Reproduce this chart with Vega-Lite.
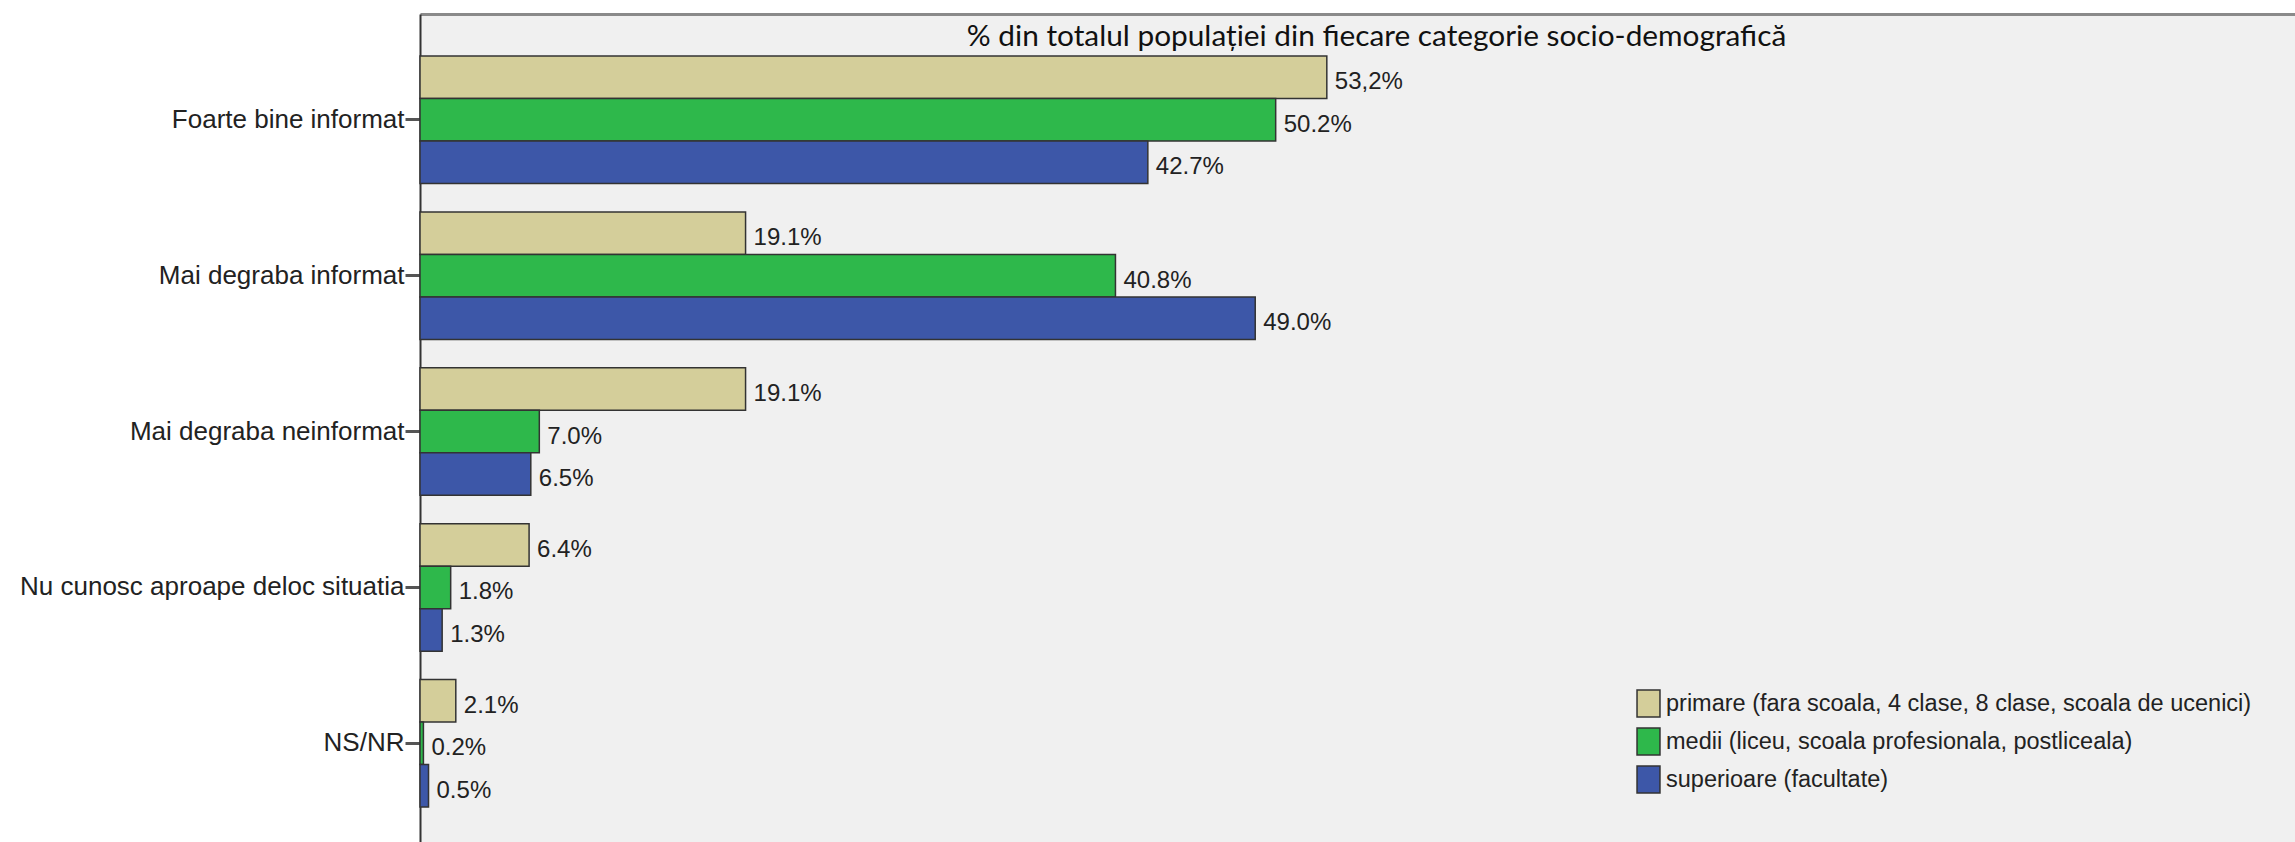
{
  "$schema": "https://vega.github.io/schema/vega-lite/v6.json",
  "width": 1875,
  "height": 828,
  "autosize": {"type": "none"},
  "padding": {"left": 420, "top": 14, "right": 0, "bottom": 0},
  "background": "#ffffff",
  "title": {
    "text": "% din totalul populației din fiecare categorie socio-demografică",
    "font": "Lato",
    "fontSize": 29.8,
    "fontWeight": "normal",
    "color": "#111111",
    "anchor": "middle",
    "frame": "group",
    "dx": 19,
    "baseline": "alphabetic",
    "offset": -62
  },
  "data": {
    "values": [
      {"cat": "Foarte bine informat", "edu": "primare (fara scoala, 4 clase, 8 clase, scoala de ucenici)", "value": 53.2, "label": "53,2%"},
      {"cat": "Foarte bine informat", "edu": "medii (liceu, scoala profesionala, postliceala)", "value": 50.2, "label": "50.2%"},
      {"cat": "Foarte bine informat", "edu": "superioare (facultate)", "value": 42.7, "label": "42.7%"},
      {"cat": "Mai degraba informat", "edu": "primare (fara scoala, 4 clase, 8 clase, scoala de ucenici)", "value": 19.1, "label": "19.1%"},
      {"cat": "Mai degraba informat", "edu": "medii (liceu, scoala profesionala, postliceala)", "value": 40.8, "label": "40.8%"},
      {"cat": "Mai degraba informat", "edu": "superioare (facultate)", "value": 49.0, "label": "49.0%"},
      {"cat": "Mai degraba neinformat", "edu": "primare (fara scoala, 4 clase, 8 clase, scoala de ucenici)", "value": 19.1, "label": "19.1%"},
      {"cat": "Mai degraba neinformat", "edu": "medii (liceu, scoala profesionala, postliceala)", "value": 7.0, "label": "7.0%"},
      {"cat": "Mai degraba neinformat", "edu": "superioare (facultate)", "value": 6.5, "label": "6.5%"},
      {"cat": "Nu cunosc aproape deloc situatia", "edu": "primare (fara scoala, 4 clase, 8 clase, scoala de ucenici)", "value": 6.4, "label": "6.4%"},
      {"cat": "Nu cunosc aproape deloc situatia", "edu": "medii (liceu, scoala profesionala, postliceala)", "value": 1.8, "label": "1.8%"},
      {"cat": "Nu cunosc aproape deloc situatia", "edu": "superioare (facultate)", "value": 1.3, "label": "1.3%"},
      {"cat": "NS/NR", "edu": "primare (fara scoala, 4 clase, 8 clase, scoala de ucenici)", "value": 2.1, "label": "2.1%"},
      {"cat": "NS/NR", "edu": "medii (liceu, scoala profesionala, postliceala)", "value": 0.2, "label": "0.2%"},
      {"cat": "NS/NR", "edu": "superioare (facultate)", "value": 0.5, "label": "0.5%"}
    ]
  },
  "encoding": {
    "y": {
      "field": "cat",
      "type": "nominal",
      "sort": ["Foarte bine informat", "Mai degraba informat", "Mai degraba neinformat", "Nu cunosc aproape deloc situatia", "NS/NR"],
      "scale": {"paddingInner": 0.182, "paddingOuter": 0.247, "align": 0.546},
      "axis": {
        "title": null,
        "labelFont": "Liberation Sans",
        "labelFontSize": 26,
        "labelColor": "#222222",
        "labelLimit": 600,
        "labelPadding": 1,
        "tickSize": 15,
        "tickWidth": 3,
        "tickColor": "#555555",
        "domainColor": "#333333",
        "domainWidth": 2,
        "grid": false
      }
    },
    "yOffset": {
      "field": "edu",
      "type": "nominal",
      "sort": ["primare (fara scoala, 4 clase, 8 clase, scoala de ucenici)", "medii (liceu, scoala profesionala, postliceala)", "superioare (facultate)"],
      "scale": {"paddingInner": 0, "paddingOuter": 0}
    },
    "x": {
      "field": "value",
      "type": "quantitative",
      "scale": {"domain": [0, 110], "nice": false, "zero": true},
      "axis": {
        "orient": "top",
        "title": null,
        "labels": false,
        "ticks": false,
        "grid": false,
        "domainColor": "#8a8a8a",
        "domainWidth": 3
      }
    }
  },
  "layer": [
    {
      "mark": {"type": "bar", "stroke": "#333333", "strokeWidth": 1.5},
      "encoding": {
        "color": {
          "field": "edu",
          "type": "nominal",
          "sort": ["primare (fara scoala, 4 clase, 8 clase, scoala de ucenici)", "medii (liceu, scoala profesionala, postliceala)", "superioare (facultate)"],
          "scale": {
            "domain": ["primare (fara scoala, 4 clase, 8 clase, scoala de ucenici)", "medii (liceu, scoala profesionala, postliceala)", "superioare (facultate)"],
            "range": ["#d4ce9a", "#2eb84b", "#3d57a8"]
          },
          "legend": {
            "title": null,
            "orient": "none",
            "legendX": 1214,
            "legendY": 675,
            "symbolType": "M-0.85,-1H0.85V1H-0.85Z",
            "symbolSize": 729,
            "symbolStrokeColor": "#333333",
            "symbolStrokeWidth": 1.5,
            "labelFont": "Liberation Sans",
            "labelFontSize": 23.5,
            "labelColor": "#222222",
            "labelLimit": 800,
            "labelOffset": 3,
            "rowPadding": 5
          }
        }
      }
    },
    {
      "mark": {"type": "text", "align": "left", "baseline": "middle", "dx": 8, "dy": 5, "font": "Liberation Sans", "fontSize": 24, "color": "#222222"},
      "encoding": {
        "text": {"field": "label", "type": "nominal"}
      }
    }
  ],
  "config": {
    "view": {"fill": "#f0f0f0", "stroke": null}
  }
}
